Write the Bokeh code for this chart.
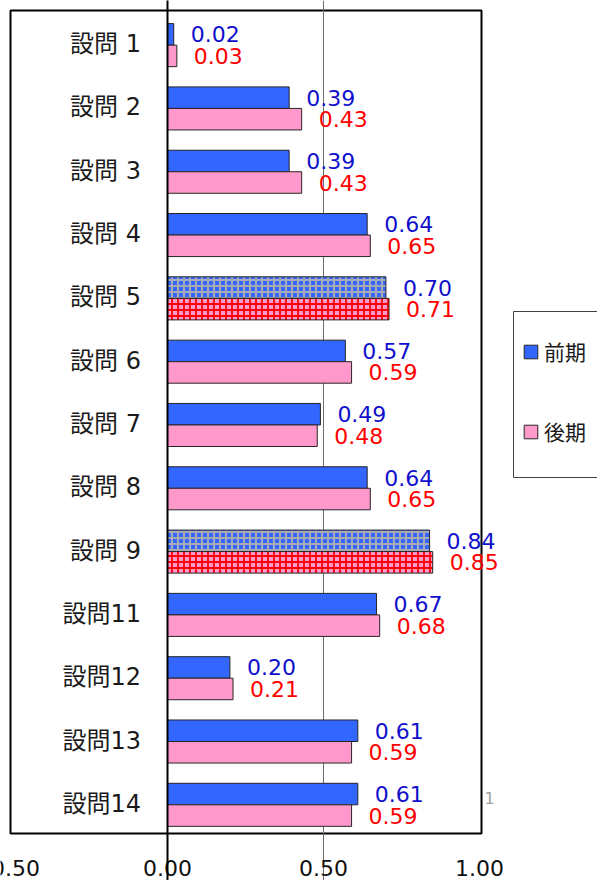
from bokeh.plotting import figure
from bokeh.models import (ColumnDataSource, Range1d, FixedTicker, LabelSet, Label, BoxAnnotation,
                          Grid, Legend, LegendItem)
from bokeh.core.properties import value
from bokeh.embed import file_html
from bokeh.resources import INLINE

# ---- data ----
categories = ["設問 1", "設問 2", "設問 3", "設問 4", "設問 5", "設問 6", "設問 7",
              "設問 8", "設問 9", "設問11", "設問12", "設問13", "設問14"]
zenki = [0.02, 0.39, 0.39, 0.64, 0.70, 0.57, 0.49, 0.64, 0.84, 0.67, 0.20, 0.61, 0.61]
kouki = [0.03, 0.43, 0.43, 0.65, 0.71, 0.59, 0.48, 0.65, 0.85, 0.68, 0.21, 0.59, 0.59]
highlighted = ["設問 5", "設問 9"]
series_names = ["前期", "後期"]
x_ticks = [-0.5, 0.0, 0.5, 1.0]
x_tick_labels = [f"{t:.2f}" for t in x_ticks]

# ---- layout constants (pixels -> data) ----
W, H = 597, 880
PX_X = 312.0          # px per x unit
PX_Y = 823.0 / 13     # px per category
X0_PAGE = 167         # page x of value 0
def xd(px): return (px - X0_PAGE) / PX_X
def yd(py): return (py - 10) / PX_Y - 0.047

BAR_H = 0.34
idx = list(range(len(categories)))
y_blue = [i + 0.5 - BAR_H / 2 for i in idx]
y_pink = [i + 0.5 + BAR_H / 2 for i in idx]
is_hl = [c in highlighted for c in categories]


def subset(vals, ys, flag):
    return ColumnDataSource(dict(
        y=[y for y, h in zip(ys, is_hl) if h == flag],
        v=[v for v, h in zip(vals, is_hl) if h == flag]))


blue_norm = subset(zenki, y_blue, False)
blue_hl = subset(zenki, y_blue, True)
pink_norm = subset(kouki, y_pink, False)
pink_hl = subset(kouki, y_pink, True)

p = figure(frame_width=W, frame_height=H,
           x_range=Range1d(xd(0), xd(W)), y_range=Range1d(yd(H), yd(0)),
           output_backend="svg", toolbar_location=None,
           x_axis_location=None, y_axis_location=None,
           min_border_left=0, min_border_top=0, min_border_right=0, min_border_bottom=0)
p.background_fill_color = "white"
p.border_fill_color = "white"
p.outline_line_color = None
p.grid.visible = False

# plot-area box (Excel plot area border)
p.add_layout(BoxAnnotation(left=xd(10), right=xd(481), top=yd(10), bottom=yd(833),
                           fill_alpha=0, line_color="black", line_alpha=1, line_width=2,
                           level="underlay"))

# vertical gridline at 0.50 and the zero line
p.add_layout(Grid(dimension=0, ticker=FixedTicker(ticks=[0.5]), bounds=(yd(10), yd(833)),
                  grid_line_color="#6e6e6e", grid_line_width=1))

r_blue = p.hbar(y="y", right="v", left=0, height=BAR_H, source=blue_norm,
                fill_color="#3366FF", line_color="#262626", line_width=1)
p.hbar(y="y", right="v", left=0, height=BAR_H, source=blue_hl,
       fill_color="#3366FF", line_color="#262626", line_width=1,
       hatch_pattern="cross", hatch_color="#A8AAB8", hatch_scale=6, hatch_weight=2.1)
r_pink = p.hbar(y="y", right="v", left=0, height=BAR_H, source=pink_norm,
                fill_color="#FF99CC", line_color="#262626", line_width=1)
p.hbar(y="y", right="v", left=0, height=BAR_H, source=pink_hl,
       fill_color="#FF99CC", line_color="#262626", line_width=1,
       hatch_pattern="cross", hatch_color="#FF0000", hatch_scale=6, hatch_weight=1.8)

p.add_layout(Grid(dimension=0, ticker=FixedTicker(ticks=[0.0]), bounds=(yd(10), yd(833)),
                  grid_line_color="black", grid_line_width=2, level="overlay"))

# x tick labels below the plot area
tick_src = ColumnDataSource(dict(x=x_ticks, y=[yd(867)] * len(x_ticks), t=x_tick_labels))
p.add_layout(LabelSet(x="x", y="y", text="t", source=tick_src, text_align="center",
                      text_baseline="middle", text_color="#111111",
                      text_font=value("DejaVu Sans"), text_font_size="22px"))

# stray "1" at the right of the plot area
p.add_layout(Label(x=xd(481), y=yd(797), text="1", x_offset=3, text_baseline="middle",
                   text_font="DejaVu Sans", text_font_size="16px", text_color="#a0a0a0"))

# value labels
lab_src = ColumnDataSource(dict(
    xb=zenki, yb=y_blue, tb=[f"{v:.2f}" for v in zenki],
    xp=kouki, yp=y_pink, tp=[f"{v:.2f}" for v in kouki]))
p.add_layout(LabelSet(x="xb", y="yb", text="tb", source=lab_src, x_offset=17,
                      text_align="left", text_baseline="middle", text_color="#1010CC",
                      text_font=value("DejaVu Sans"), text_font_size="22px"))
p.add_layout(LabelSet(x="xp", y="yp", text="tp", source=lab_src, x_offset=17,
                      text_align="left", text_baseline="middle", text_color="#FF0000",
                      text_font=value("DejaVu Sans"), text_font_size="22px"))

# category labels (inside the plot area)
cat_src = ColumnDataSource(dict(x=[-0.085] * len(categories),
                                y=[i + 0.5 for i in idx], t=categories))
p.add_layout(LabelSet(x="x", y="y", text="t", source=cat_src, y_offset=1,
                      text_align="right", text_baseline="middle", text_color="#1a1a1a",
                      text_font=value("DejaVu Sans, 'Noto Sans CJK JP'"),
                      text_font_size="24px"))

# ---- legend ----
p.add_layout(BoxAnnotation(left=xd(513), right=xd(640), top=yd(311), bottom=yd(477),
                           fill_color="white", fill_alpha=1, line_color="#404040",
                           line_alpha=1, line_width=1))
item_leg = Legend(items=[LegendItem(label=series_names[0], renderers=[r_blue]),
                         LegendItem(label=series_names[1], renderers=[r_pink])],
                  location=(522, H - 446), padding=0, margin=0, spacing=50,
                  glyph_width=17, glyph_height=17, label_standoff=5,
                  label_text_font="Noto Sans CJK JP", label_text_font_size="21px",
                  label_text_color="#1a1a1a",
                  border_line_color=None, background_fill_alpha=0)
p.add_layout(item_leg)

open("out.html", "w").write(file_html(p, INLINE))
